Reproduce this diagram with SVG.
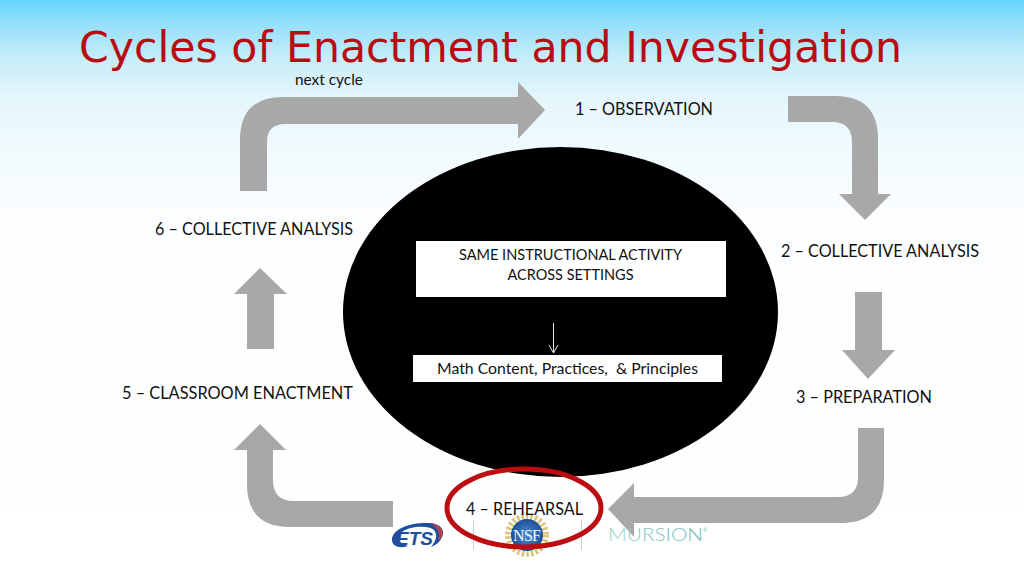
<svg xmlns="http://www.w3.org/2000/svg" width="1024" height="576" viewBox="0 0 1024 576">
<style>
.lbl{font-family:Lato,"Liberation Sans",sans-serif;font-size:16.5px;fill:#111}
.small{font-size:15.4px}
.arrow{fill:#a8a8a8}
.box{fill:#fff}
.sep{stroke:#c9d0d4;stroke-width:1}
</style>
<defs>
<linearGradient id="bg" x1="0" y1="0" x2="0" y2="1">
<stop offset="0" stop-color="#66d3fb"/>
<stop offset="0.04" stop-color="#92dffa"/>
<stop offset="0.1" stop-color="#c6edf9"/>
<stop offset="0.17" stop-color="#e4f6fc"/>
<stop offset="0.28" stop-color="#f2fbfe"/>
<stop offset="0.38" stop-color="#fdfeff"/>
<stop offset="1" stop-color="#ffffff"/>
</linearGradient>
<radialGradient id="nsf" cx="0.5" cy="0.5" r="0.5">
<stop offset="0" stop-color="#4f8fd0"/>
<stop offset="1" stop-color="#1d4f94"/>
</radialGradient>
<linearGradient id="mur" x1="0" y1="0" x2="1" y2="0">
<stop offset="0" stop-color="#9ad4c8"/>
<stop offset="1" stop-color="#6bb4b4"/>
</linearGradient>
<marker id="thin" markerWidth="12" markerHeight="12" refX="10" refY="6" orient="auto" markerUnits="userSpaceOnUse" viewBox="0 0 12 12"><path d="M2 1.500L10 6L2 10.500" fill="none" stroke="#e8e8e8" stroke-width="1"/></marker>
</defs>
<rect width="1024" height="576" fill="url(#bg)"/>
<text id="title" x="79" y="62" style="font-family:'DejaVu Sans',Verdana,sans-serif;font-size:43px;fill:#b90c12" textLength="823" lengthAdjust="spacingAndGlyphs">Cycles of Enactment and Investigation</text>
<g id="connectors">
<path class="arrow" d="M240 191V140Q240 97 283 97H518V82L545 110L518 139V124H285Q267 124 267 142V191Z"/>
<path class="arrow" d="M788 96H835Q878 96 878 139V194H891L865 220L839 194H852V142Q852 122 832 122H788Z"/>
<path class="arrow" d="M855 292H882V350H895L868 379L842 350H855Z"/>
<path class="arrow" d="M858 428H884V480Q884 523 841 523H634V537L608 509L634 483V497H838Q858 497 858 477Z"/>
<path class="arrow" d="M393 501V527H290Q247 527 247 484V450H234L260 424L286 450H273V480Q273 501 294 501Z"/>
<path class="arrow" d="M247 349V294H234L260 268L287 294H274V349Z"/>
</g>
<g id="center">
<ellipse cx="560.5" cy="312" rx="217.5" ry="165" fill="#000"/>
</g>
<g id="box-activity">
<rect class="box" x="416" y="241" width="310" height="56"/>
<text class="lbl small" x="570.500" y="260" text-anchor="middle" textLength="223" lengthAdjust="spacingAndGlyphs">SAME INSTRUCTIONAL ACTIVITY</text>
<text class="lbl small" x="570.500" y="280" text-anchor="middle" textLength="126" lengthAdjust="spacingAndGlyphs">ACROSS SETTINGS</text>
</g>
<g id="box-math">
<rect class="box" x="413" y="355" width="309" height="27"/>
<text class="lbl small" x="567.500" y="374" text-anchor="middle" textLength="261" lengthAdjust="spacingAndGlyphs" xml:space="preserve">Math Content, Practices,  &amp; Principles</text>
</g>
<line id="thin-arrow" x1="553.5" y1="323" x2="553.5" y2="353" stroke="#e8e8e8" stroke-width="1" marker-end="url(#thin)"/>
<g id="next-cycle"><text class="lbl small" x="295" y="85">next cycle</text></g>
<g id="n1"><text class="lbl" x="575" y="115" textLength="138" lengthAdjust="spacingAndGlyphs">1 – OBSERVATION</text></g>
<g id="n2"><text class="lbl" x="781" y="257" textLength="198" lengthAdjust="spacingAndGlyphs">2 – COLLECTIVE ANALYSIS</text></g>
<g id="n3"><text class="lbl" x="796" y="403" textLength="136" lengthAdjust="spacingAndGlyphs">3 – PREPARATION</text></g>
<g id="n5"><text class="lbl" x="122" y="399" textLength="231" lengthAdjust="spacingAndGlyphs">5 – CLASSROOM ENACTMENT</text></g>
<g id="n6"><text class="lbl" x="155" y="235" textLength="198" lengthAdjust="spacingAndGlyphs">6 – COLLECTIVE ANALYSIS</text></g>
<g id="logos">
<path d="M392 540C392 528 412 522 430 523C441 524 445 530 442 537C440 542 436 545 431 547C436 541 438 535 434 530C428 525 410 526 402 532C396 537 398 543 408 546C399 549 392 546 392 540Z" fill="#1f4e9c"/>
<path d="M430 523C440 524 445 530 442 537L438 541C441 533 437 527 430 523Z" fill="#b04050"/>
<text x="396" y="545" style="font-family:'Liberation Sans',sans-serif;font-weight:700;font-style:italic;font-size:18px;fill:#1f4e9c" textLength="37" lengthAdjust="spacingAndGlyphs">ETS</text>
<line class="sep" x1="473.500" y1="520" x2="473.500" y2="550"/>
<line class="sep" x1="581.500" y1="520" x2="581.500" y2="550"/>
<circle cx="527" cy="535" r="18.500" fill="none" stroke="#dcc47e" stroke-width="7" stroke-dasharray="2.500 2"/>
<circle cx="527" cy="535" r="16" fill="url(#nsf)"/>
<text x="527" y="541" text-anchor="middle" style="font-family:'Liberation Serif',serif;font-size:16px;fill:#f2f6fb" textLength="28">NSF</text>
<text x="608" y="541" style="font-family:Lato,sans-serif;font-weight:300;font-size:17px;fill:url(#mur)" textLength="95" lengthAdjust="spacingAndGlyphs">MURSION</text>
<text x="703" y="532" style="font-family:Lato,sans-serif;font-size:5px;fill:#8fbcb8">®</text>
</g>
<g id="n4">
<ellipse cx="524" cy="508" rx="77" ry="39" fill="none" stroke="#bd0d10" stroke-width="5"/>
<text class="lbl" x="466" y="515" textLength="117" lengthAdjust="spacingAndGlyphs">4 – REHEARSAL</text>
</g>
</svg>
